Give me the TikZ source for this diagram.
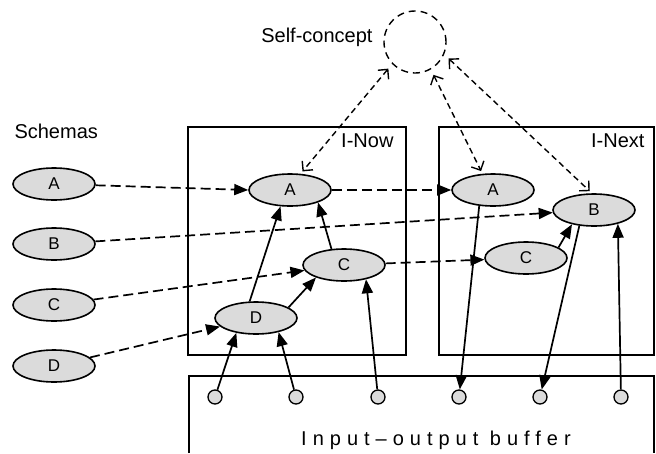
\documentclass[tikz,border=0pt]{standalone}
\usepackage{fontspec}
\setmainfont{Liberation Sans}
\usetikzlibrary{arrows.meta,shapes.geometric}

\tikzset{
  schema/.style={ellipse,draw,line width=1.6pt,fill=black!14,minimum width=82pt,
    minimum height=32pt,inner sep=0pt,font=\fontsize{17}{17}\selectfont},
  slot/.style={circle,draw,line width=1.3pt,fill=black!14,minimum size=14pt,inner sep=0pt},
  selfnode/.style={circle,draw,line width=1.4pt,dash pattern=on 7pt off 5pt,minimum size=62pt},
  frame/.style={draw,line width=2pt},
  link/.style={-{Triangle[length=14pt,width=11pt]},line width=1.7pt},
  prime/.style={link,dash pattern=on 10pt off 5pt},
  selfref/.style={{Straight Barb[length=7pt,width=14pt]}-{Straight Barb[length=7pt,width=14pt]},
    line width=1.4pt,dash pattern=on 6pt off 4pt,shorten <=6pt,shorten >=3pt},
}

\begin{document}
\begin{tikzpicture}[x=1pt,y=-1pt,font=\fontsize{20}{20}\selectfont]
  \useasboundingbox (0,0) rectangle (656,453);

  % working areas and buffer
  \draw[frame] (188,127) rectangle (406,355);
  \draw[frame] (439,127) rectangle (654,355);
  \draw[frame] (189,453) -- (189,376) -- (654,376) -- (654,453);
  \node[anchor=east] (nowlbl) at (397,141) {I-Now};
  \node[anchor=east] (nextlbl) at (648,141) {I-Next};
  \node (buflbl) at (436,440) {\addfontfeature{LetterSpace=30}Input--output buffer};

  \node[selfnode] (self) at (415,42) {};
  \node[anchor=east] (selflbl) at (376,37) {Self-concept};
  \node[anchor=west] (schlbl) at (11,131) {Schemas};

  % schemas
  \node[schema] (sA) at (54,184) {A};
  \node[schema] (sB) at (54,244) {B};
  \node[schema] (sC) at (54,305) {C};
  \node[schema] (sD) at (54,366) {D};

  \node[schema] (nA) at (290,190) {A};
  \node[schema] (nC) at (344,265) {C};
  \node[schema] (nD) at (256,318) {D};

  \node[schema] (xA) at (493,190) {A};
  \node[schema] (xB) at (594,210) {B};
  \node[schema] (xC) at (526,258) {C};

  \foreach \i/\x in {1/215,2/296,3/378,4/459,5/540,6/621}
    \node[slot] (b\i) at (\x,397) {};

  % activation
  \draw[prime] (sA) -- (nA.west);
  \draw[prime] (sB) -- (xB);
  \draw[prime] (sC) -- (nC);
  \draw[prime] (sD) -- (nD);
  \draw[prime] (nA) -- (xA);
  \draw[prime] (nC) -- (xC);

  \draw[link] (nD.111) -- (nA.240);
  \draw[link] (nD.18) -- (nC.204);
  \draw[link] (nC.128) -- (nA.336);
  \draw[link] (xC.18) -- (xB.213);

  % buffer in and out
  \draw[link] (b1) -- (nD.217);
  \draw[link] (b2) -- (nD.328);
  \draw[link] (b3) -- (nC.327);
  \draw[link] (xA.229) -- (b4);
  \draw[link] (xB.227) -- (b5);
  \draw[link] (b6) -- (xB.330);

  \draw[selfref] (self.224) -- (nA.57);
  \draw[selfref] (self.300) -- (xA.123);
  \draw[selfref] (self.337) -- (xB.97);
\end{tikzpicture}
\end{document}
